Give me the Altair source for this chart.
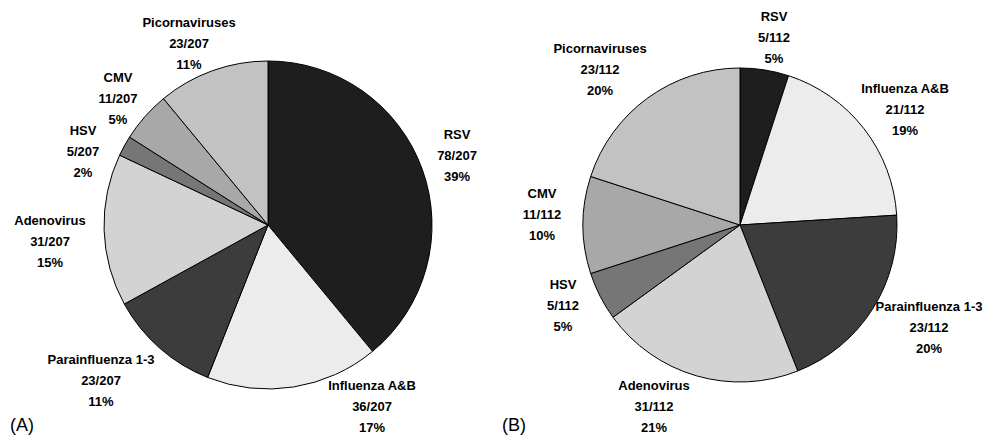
import altair as alt
import pandas as pd

# ---- data ----
viruses = ["RSV", "Influenza A&B", "Parainfluenza 1-3", "Adenovirus", "HSV", "CMV", "Picornaviruses"]
counts_a = [78, 36, 23, 31, 5, 11, 23]
total_a = 207
pct_a = [39, 17, 11, 15, 2, 5, 11]
counts_b = [5, 21, 23, 31, 5, 11, 23]
total_b = 112
pct_b = [5, 19, 20, 21, 5, 10, 20]
panel_tags = ["(A)", "(B)"]

# ---- style / layout ----
fills = ["#1e1e1e", "#ececec", "#3c3c3c", "#d3d3d3", "#767676", "#a8a8a8", "#c2c2c2"]
W, H = 975, 428
LH = 21
center_a = (260, 217)
center_b = (732, 217)
radius_a = 164
radius_b = 157
# label anchor offsets (middle line) relative to each pie centre
offs_a = [(189, -69), (104, 182), (-167, 156), (-218, 17), (-185, -73), (-150, -126), (-79, -181)]
offs_b = [(34, -187), (165, -115), (189, 103), (-86, 182), (-177, 81), (-198, -10), (-140, -155)]


def frame(counts, total, pct, center, offs):
    return pd.DataFrame({
        "virus": viruses,
        "idx": list(range(len(viruses))),
        "pct": pct,
        "fill": fills,
        "label": [f"{v}\n{c}/{total}\n{p}%" for v, c, p in zip(viruses, counts, pct)],
        "lx": [center[0] + o[0] for o in offs],
        "ly": [center[1] + o[1] - LH for o in offs],
    })


def pie(df, center, radius):
    arc = alt.Chart(df).mark_arc(outerRadius=radius, stroke="black", strokeWidth=1).encode(
        theta=alt.Theta("pct:Q", stack=True),
        order=alt.Order("idx:Q"),
        fill=alt.Fill("fill:N", scale=None),
        x=alt.value(center[0]),
        y=alt.value(center[1]),
    )
    txt = alt.Chart(df).mark_text(
        font="Liberation Sans", fontWeight="bold", fontSize=13, lineBreak="\n",
        lineHeight=LH, align="center", baseline="middle", color="black",
    ).encode(
        x=alt.X("lx:Q", scale=None),
        y=alt.Y("ly:Q", scale=None),
        text="label:N",
    )
    return arc, txt


df_a = frame(counts_a, total_a, pct_a, center_a, offs_a)
df_b = frame(counts_b, total_b, pct_b, center_b, offs_b)
arc_a, txt_a = pie(df_a, center_a, radius_a)
arc_b, txt_b = pie(df_b, center_b, radius_b)

tag_df = pd.DataFrame({"tag": panel_tags, "tx": [2, 494], "ty": [427, 427]})
tags = alt.Chart(tag_df).mark_text(
    font="Liberation Sans", fontSize=18, align="left", baseline="bottom", color="black"
).encode(
    x=alt.X("tx:Q", scale=None),
    y=alt.Y("ty:Q", scale=None),
    text="tag:N",
)

chart = alt.layer(arc_a, arc_b, txt_a, txt_b, tags).resolve_scale(theta="independent").properties(
    width=W, height=H, padding=0, autosize="none", background="white"
).configure_view(stroke=None)

chart.save("out.html", embed_options={"renderer": "svg", "actions": False})
